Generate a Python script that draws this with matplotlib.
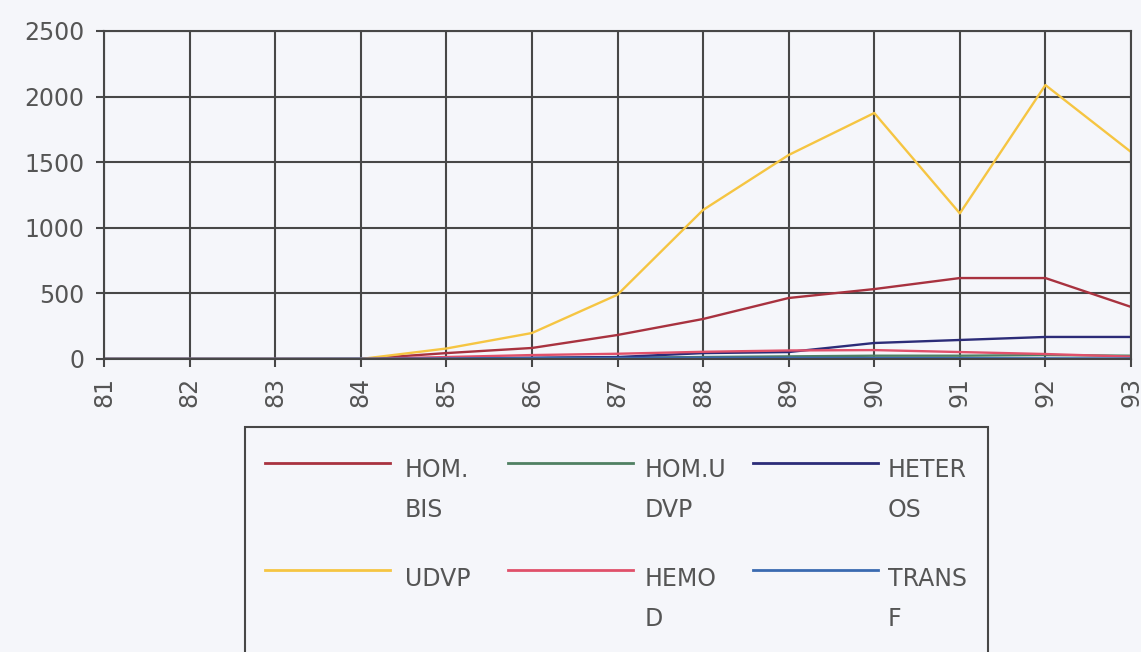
import matplotlib.pyplot as plt
from matplotlib.lines import Line2D
from matplotlib.patches import Rectangle

# Yıllar (kategori ekseni)
years = ['81', '82', '83', '84', '85', '86', '87', '88', '89', '90', '91', '92', '93']

# Seriler
hom_bis = [0, 0, 0, 0, 45, 84, 183, 305, 465, 533, 617, 617, 397]
hom_udvp = [0, 0, 0, 0, 3, 6, 10, 15, 20, 25, 25, 30, 25]
heteros = [0, 0, 0, 0, 5, 10, 15, 45, 53, 122, 145, 168, 168]
udvp = [0, 0, 0, 0, 80, 198, 490, 1136, 1555, 1875, 1110, 2088, 1578]
hemod = [0, 0, 0, 0, 15, 30, 40, 55, 65, 68, 53, 38, 18]
transf = [1, 1, 1, 2, 4, 6, 8, 10, 9, 7, 6, 5, 4]

labels = ['HOM.\nBIS', 'HOM.U\nDVP', 'HETER\nOS', 'UDVP', 'HEMO\nD', 'TRANS\nF']
series = [hom_bis, hom_udvp, heteros, udvp, hemod, transf]
colors = ['#a8323f', '#4f8062', '#2c2c78', '#f5c542', '#e0506a', '#3a6ab0']

yticks = [0, 500, 1000, 1500, 2000, 2500]

W, H = 1141, 652
bg = '#f5f6fa'
grid_c = '#474747'
text_c = '#555555'

fig = plt.figure(figsize=(W / 100, H / 100), dpi=100, facecolor=bg)
ax = fig.add_axes([104 / W, 1 - 359 / H, (1131 - 104) / W, (359 - 31) / H])
ax.set_facecolor(bg)

for vals, c, lab in zip(series, colors, labels):
    ax.plot(years, vals, color=c, lw=1.7, label=lab)

ax.set_xlim(0, len(years) - 1)
ax.set_ylim(0, 2500)
ax.set_yticks(yticks)
ax.grid(True, color=grid_c, lw=1.5)
ax.set_axisbelow(True)
for s in ax.spines.values():
    s.set_color(grid_c)
    s.set_linewidth(1.5)
ax.tick_params(axis='both', direction='out', length=6, width=1.5, color=grid_c,
               labelsize=17, labelcolor=text_c)
ax.tick_params(axis='y', pad=8)
ax.tick_params(axis='x', pad=7, labelrotation=90)

# Lejant (elle yerleştirildi)
def fx(x):
    return x / W

def fy(y):
    return 1 - y / H

fig.add_artist(Rectangle((fx(245), fy(700)), fx(988) - fx(245), fy(427) - fy(700),
                         transform=fig.transFigure, fill=False, ec=grid_c, lw=1.5))
line_x = [265, 508, 753]
text_x = [405, 645, 888]
line_y = [463, 570]
top_y = [458, 567]
for i, (lab, c) in enumerate(zip(labels, colors)):
    col, row = i % 3, i // 3
    fig.add_artist(Line2D([fx(line_x[col]), fx(line_x[col] + 125)],
                          [fy(line_y[row]), fy(line_y[row])],
                          transform=fig.transFigure, color=c, lw=2))
    t = fig.text(fx(text_x[col]), fy(top_y[row]), lab, fontsize=17, color=text_c,
                 va='top', ha='left', linespacing=1.85)

fig.savefig('out.png', dpi=100, facecolor=bg)
